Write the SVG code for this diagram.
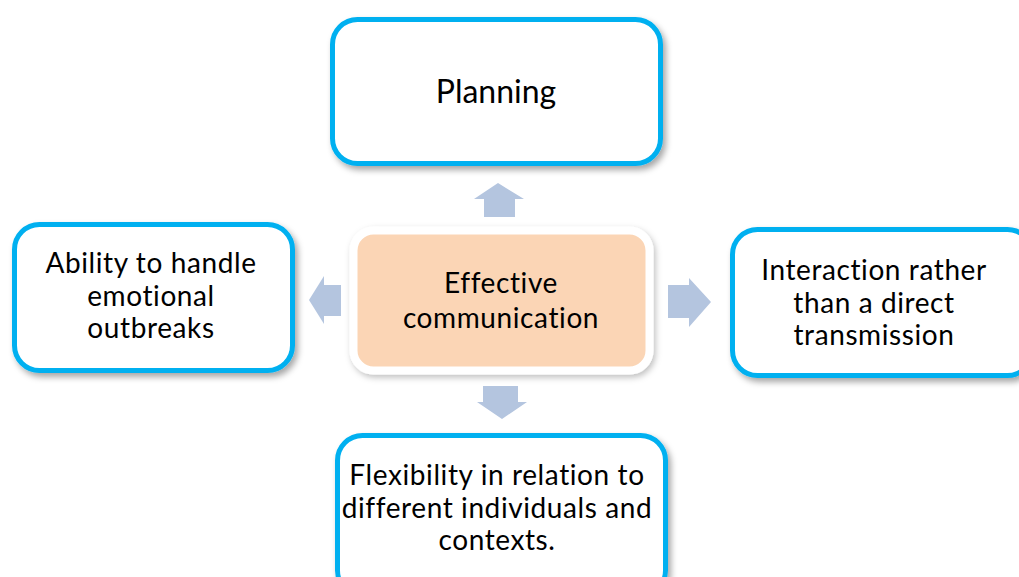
<svg xmlns="http://www.w3.org/2000/svg" width="1019" height="577" viewBox="0 0 1019 577">
  <defs>
    <filter id="shadow" x="-10%" y="-10%" width="125%" height="130%">
      <feDropShadow dx="3" dy="4" stdDeviation="3" flood-color="#000" flood-opacity="0.35"/>
    </filter>
    <filter id="softShadow" x="-10%" y="-10%" width="125%" height="130%">
      <feDropShadow dx="2" dy="3" stdDeviation="3" flood-color="#000" flood-opacity="0.25"/>
    </filter>
    <style>
      .box { fill: #FFFFFF; stroke: #00B0F0; stroke-width: 5; filter: url(#shadow); }
      .hub { fill: #FBD5B5; stroke: #FFFFFF; stroke-width: 8; filter: url(#softShadow); }
      .arrow { fill: #B4C5DF; }
      text { font-family: Lato, "Open Sans", sans-serif; font-size: 28px; letter-spacing: 0.6px; fill: #000; text-anchor: middle; }
      .big { font-size: 32px; letter-spacing: 0; }
    </style>
  </defs>
  <rect width="1019" height="577" fill="#FFFFFF"/>

  <!-- connectors: block arrows pointing out from the hub -->
  <g id="connectors">
    <polygon class="arrow" points="498,183 524,199 515,199 515,217 484,217 484,199 474,199"/>
    <polygon class="arrow" points="309,300 324,276 324,285 341,285 341,316 324,316 324,324"/>
    <polygon class="arrow" points="711,302 689,278 689,285 668,285 668,318 689,318 689,327"/>
    <polygon class="arrow" points="502,419 527,402 518,402 518,386 483,386 483,402 477,402"/>
  </g>

  <g id="hub">
    <rect class="hub" x="353.5" y="230.5" width="296" height="140" rx="20"/>
    <text x="501" y="293">Effective</text>
    <text x="501" y="328">communication</text>
  </g>

  <g id="planning">
    <rect class="box" x="332.5" y="19.5" width="328" height="144" rx="25"/>
    <text class="big" x="496" y="103">Planning</text>
  </g>

  <g id="emotional">
    <rect class="box" x="14.5" y="224.5" width="278" height="146" rx="25"/>
    <text x="151" y="273">Ability to handle</text>
    <text x="151" y="306">emotional</text>
    <text x="151" y="338">outbreaks</text>
  </g>

  <g id="interaction">
    <rect class="box" x="732.5" y="229.5" width="300" height="146" rx="25"/>
    <text x="874" y="280">Interaction rather</text>
    <text x="874" y="313">than a direct</text>
    <text x="874" y="345">transmission</text>
  </g>

  <g id="flexibility">
    <rect class="box" x="337.5" y="435.5" width="328" height="160" rx="25"/>
    <text x="497" y="485">Flexibility in relation to</text>
    <text x="497" y="518">different individuals and</text>
    <text x="497" y="550">contexts.</text>
  </g>
</svg>
